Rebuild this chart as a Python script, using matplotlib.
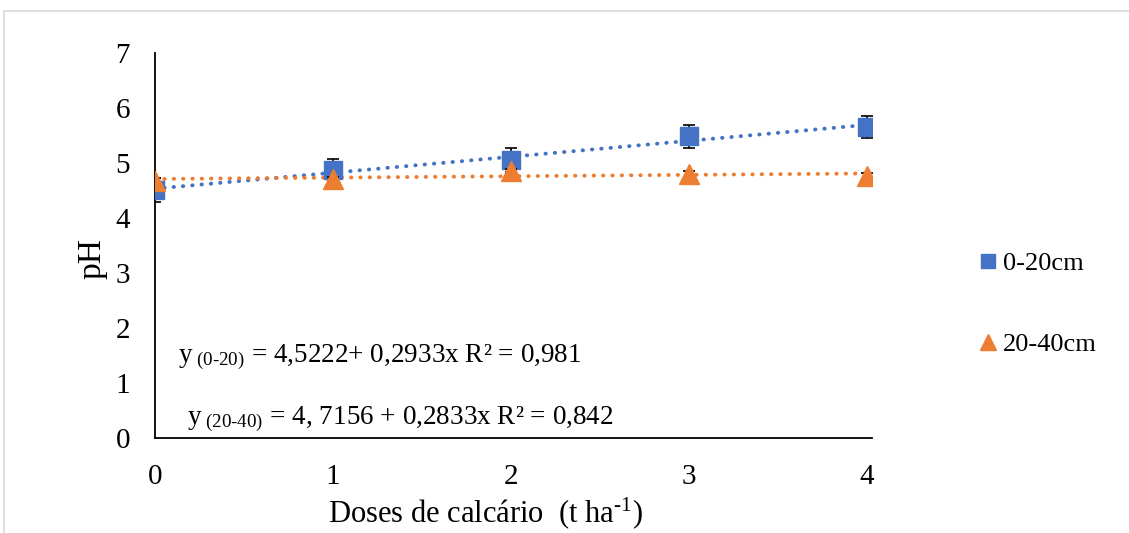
import numpy as np
import matplotlib
matplotlib.use("Agg")
import matplotlib.pyplot as plt
from matplotlib.patches import Rectangle

plt.rcParams['font.family'] = ['Liberation Serif', 'DejaVu Serif']
plt.rcParams['mathtext.fontset'] = 'custom'
plt.rcParams['mathtext.rm'] = 'Liberation Serif'
plt.rcParams['mathtext.it'] = 'Liberation Serif:italic'

# doses de calcario (t/ha)
doses = [0, 1, 2, 3, 4]
ph_0_20 = [4.51, 4.87, 5.05, 5.49, 5.65]
err_0_20 = [0.22, 0.21, 0.22, 0.21, 0.20]
ph_20_40 = [4.68, 4.71, 4.85, 4.80, 4.76]
err_20_40 = [0.04, 0.04, 0.05, 0.05, 0.05]
labels = ['0-20cm', '20-40cm']
eq1 = r'y$_{\ \mathrm{(0\text{-}20)}}$ = 4,5222+ 0,2933x R² = 0,981'
eq2 = r'y$_{\ \mathrm{(20\text{-}40)}}$ = 4, 7156 + 0,2833x R² = 0,842'

blue = '#4472c4'
orange = '#ed7d31'

fig = plt.figure(figsize=(11.29, 5.33), dpi=100)
ax = fig.add_axes([0.1373, 0.1782, 0.6354, 0.7223])

x = np.array(doses)
# linhas de tendencia
for ys, c in [(ph_0_20, blue), (ph_20_40, orange)]:
    p = np.polyfit(x, ys, 1)
    xx = np.linspace(0, 4, 50)
    ax.plot(xx, np.polyval(p, xx), color=c, lw=2.8,
            dashes=(0.1, 2.3), dash_capstyle='round', zorder=2)

ax.errorbar(x, ph_0_20, yerr=err_0_20, fmt='s', color=blue, ms=12.5,
            ecolor='black', elinewidth=1.2, capsize=4, capthick=1.2,
            label=labels[0], zorder=3)
ax.errorbar(x, ph_20_40, yerr=err_20_40, fmt='^', color=orange, ms=14,
            ecolor='black', elinewidth=1.2, capsize=4, capthick=1.2,
            label=labels[1], zorder=4)

ax.set_xlim(0, 4.03)
ax.set_ylim(0, 7)
ax.set_xticks(doses)
ax.set_yticks(range(8))
for s in ['top', 'right']:
    ax.spines[s].set_visible(False)
for s in ['left', 'bottom']:
    ax.spines[s].set_linewidth(1.3)
ax.tick_params(axis='both', length=0, labelsize=21)
ax.tick_params(axis='x', pad=19)
ax.tick_params(axis='y', pad=18)
ax.set_xlabel(r'Doses de calcário  (t ha$^{\mathrm{\text{-}1}}$)', fontsize=22)
ax.xaxis.set_label_coords(0.46, -0.148)
ax.set_ylabel('pH', fontsize=24)
ax.yaxis.set_label_coords(-0.066, 0.465)

ax.text(0.13, 1.38, eq1, fontsize=19.5, va='baseline')
ax.text(0.18, 0.25, eq2, fontsize=19.5, va='baseline', zorder=1)

h, l = ax.get_legend_handles_labels()
h = [hh[0] for hh in h]
fig.legend(h, l, loc='center left', bbox_to_anchor=(0.845, 0.43), frameon=False,
           fontsize=19, labelspacing=2.2, handlelength=0.8, handletextpad=0.15,
           markerscale=0.85)

fig.add_artist(Rectangle((0.0035, -0.05), 1.1, 1.0294, transform=fig.transFigure,
                         fill=False, edgecolor='#d9d9d9', lw=1.2))

fig.savefig('out.png', dpi=100)
